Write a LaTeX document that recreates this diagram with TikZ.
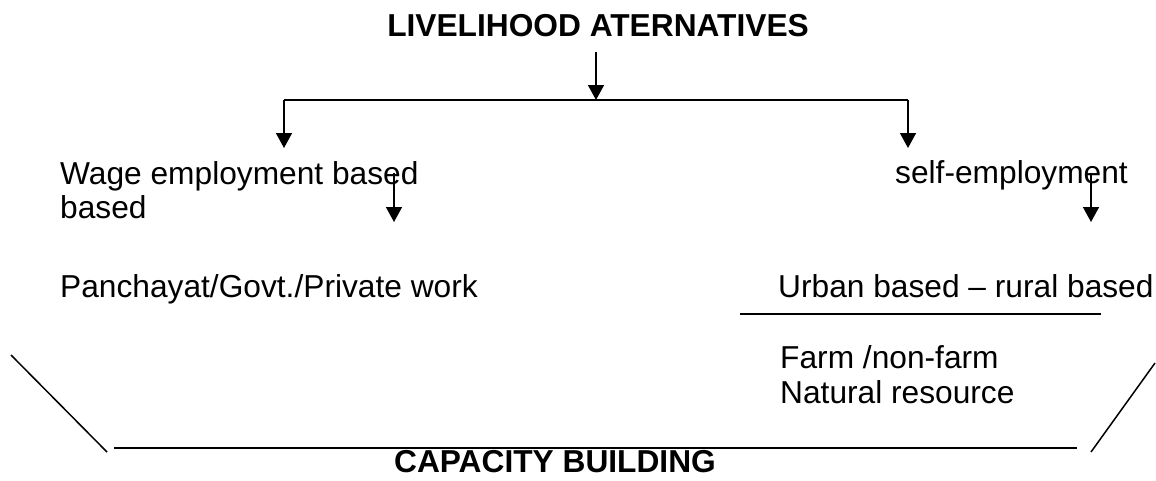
\documentclass[tikz,border=0pt]{standalone}
\usepackage{fontspec}
\setmainfont{Liberation Sans}
\usetikzlibrary{arrows.meta}
\begin{document}
\begin{tikzpicture}[x=1pt,y=-1pt,
  txt/.style={anchor=base west,inner sep=0pt,font=\fontsize{31.7}{34.5}\selectfont},
  ttl/.style={anchor=base,inner sep=0pt,font=\fontsize{31.7}{34.5}\selectfont\bfseries},
  ln/.style={line width=1.5pt},
  arr/.style={ln,-{Triangle[width=16pt,length=15pt]}}]
\useasboundingbox (0,0) rectangle (1156,480);
% texts
\node[ttl] (title) at (598,36) {LIVELIHOOD ATERNATIVES};
\node[txt] (wage) at (60,184) {Wage employment based};
\node[txt] (wage2) at (60,218) {based};
\node[txt] (self) at (895,183) {self-employment};
\node[txt] (panch) at (60,297) {Panchayat/Govt./Private work};
\node[txt] (urban) at (778,297) {Urban based – rural based};
\node[txt] (farm) at (780,368) {Farm /non-farm};
\node[txt] (natural) at (780,403) {Natural resource};
\node[ttl] (cap) at (555,472) {CAPACITY BUILDING};
% connectors
\coordinate (t0) at (596,52);
\coordinate (t1) at (596,100);
\coordinate (bl) at (284,100);
\coordinate (br) at (908,100);
\coordinate (blt) at (284,148);
\coordinate (brt) at (908,148);
\draw[arr] (t0) -- (t1);
\draw[ln] (bl) -- (br);
\draw[arr] (bl) -- (blt);
\draw[arr] (br) -- (brt);
\coordinate (w0) at (394,173);
\coordinate (w1) at (394,222);
\coordinate (s0) at (1091,173);
\coordinate (s1) at (1091,222);
\draw[arr] (w0) -- (w1);
\draw[arr] (s0) -- (s1);
% rules
\coordinate (u0) at (740,314);
\coordinate (u1) at (1101,314);
\draw[ln] (u0) -- (u1);
\coordinate (d0) at (11,355);
\coordinate (d1) at (107,452);
\coordinate (b0) at (114,448);
\coordinate (b1) at (1077,448);
\coordinate (e0) at (1091,452);
\coordinate (e1) at (1155,363);
\draw[ln] (d0) -- (d1);
\draw[ln] (b0) -- (b1);
\draw[ln] (e0) -- (e1);
\end{tikzpicture}
\end{document}
